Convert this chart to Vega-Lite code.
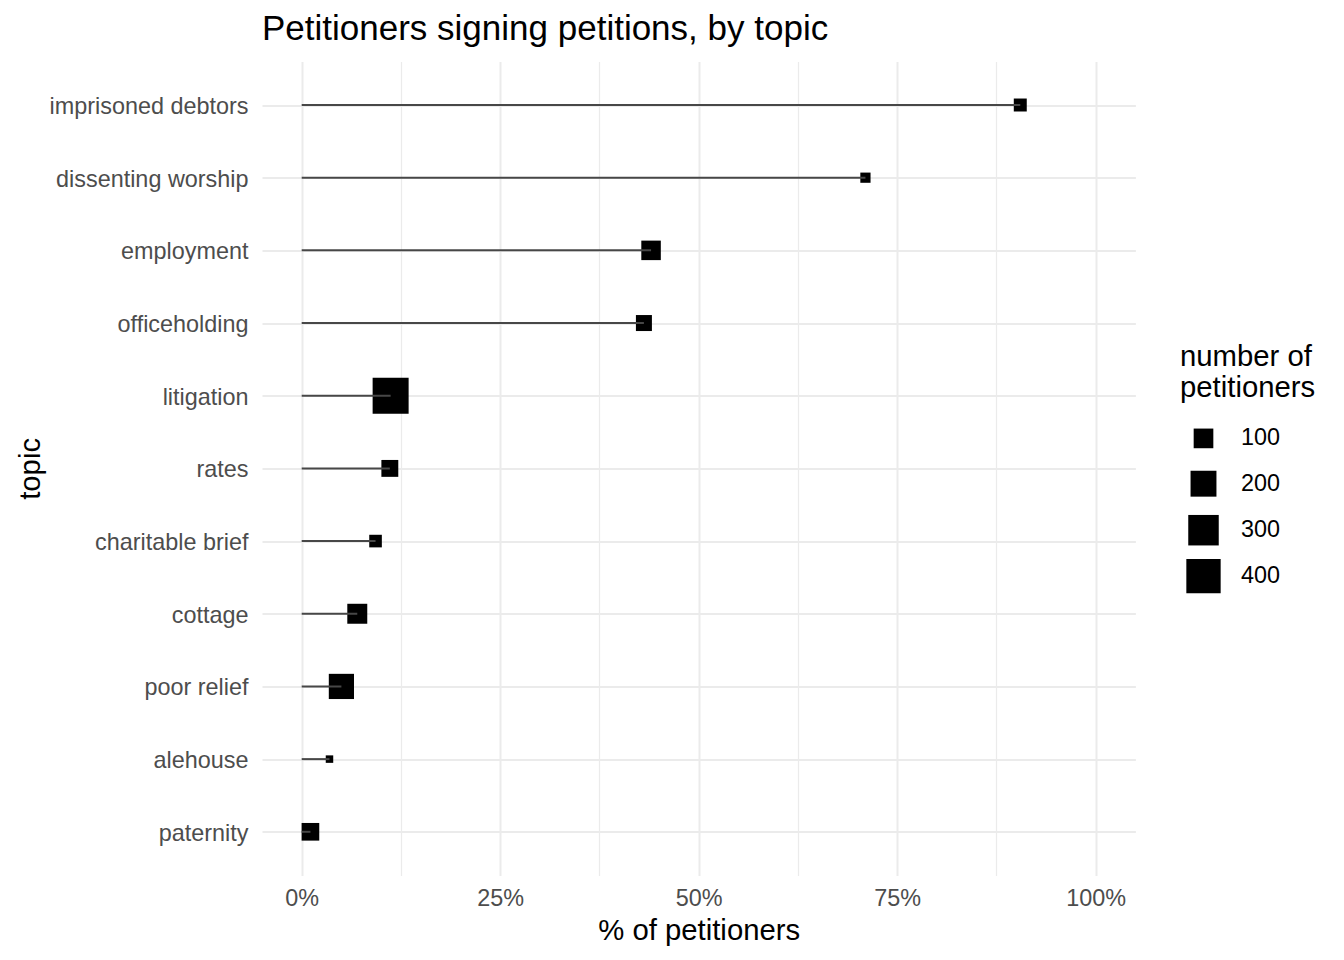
{
  "$schema": "https://vega.github.io/schema/vega-lite/v6.json",
  "autosize": {"type": "none"},
  "width": 873.4,
  "height": 814,
  "padding": {"left": 262, "top": 61.4, "right": 208.6, "bottom": 84.6},
  "background": "white",
  "title": {
    "text": "Petitioners signing petitions, by topic",
    "anchor": "start",
    "frame": "group",
    "fontSize": 35,
    "fontWeight": "normal",
    "color": "black",
    "offset": 14
  },
  "data": {
    "values": [
      {"topic": "imprisoned debtors", "share": 0.905, "petitioners": 38},
      {"topic": "dissenting worship", "share": 0.710, "petitioners": 26},
      {"topic": "employment", "share": 0.440, "petitioners": 98},
      {"topic": "officeholding", "share": 0.431, "petitioners": 60},
      {"topic": "litigation", "share": 0.112, "petitioners": 449},
      {"topic": "rates", "share": 0.111, "petitioners": 69},
      {"topic": "charitable brief", "share": 0.093, "petitioners": 36},
      {"topic": "cottage", "share": 0.070, "petitioners": 104},
      {"topic": "poor relief", "share": 0.050, "petitioners": 187},
      {"topic": "alehouse", "share": 0.035, "petitioners": 22},
      {"topic": "paternity", "share": 0.011, "petitioners": 77}
    ]
  },
  "encoding": {
    "y": {
      "field": "topic",
      "type": "nominal",
      "sort": null,
      "scale": {"type": "point", "padding": 0.6},
      "axis": {
        "title": "topic",
        "titlePadding": 17,
        "labelPadding": 14,
        "labelLimit": 400,
        "labelOffset": 1.5,
        "ticks": false,
        "domain": false,
        "grid": true,
        "gridWidth": 2
      }
    },
    "x": {
      "field": "share",
      "type": "quantitative",
      "scale": {"domain": [-0.05, 1.05], "nice": false, "zero": false},
      "axis": {
        "title": "% of petitioners",
        "values": [0, 0.125, 0.25, 0.375, 0.5, 0.625, 0.75, 0.875, 1],
        "labelExpr": "(datum.value * 8) % 2 == 0 ? format(datum.value, '.0%') : ''",
        "gridWidth": {"condition": {"test": "(datum.value * 8) % 2 == 0", "value": 2}, "value": 1.2},
        "ticks": false,
        "domain": false,
        "labelPadding": 12,
        "titlePadding": 7
      }
    }
  },
  "layer": [
    {
      "mark": {"type": "square", "filled": true, "opacity": 1, "color": "black"},
      "encoding": {
        "size": {
          "field": "petitioners",
          "type": "quantitative",
          "scale": {
            "zero": false,
            "domain": [22, 24, 27, 31, 40, 60, 100, 150, 200, 300, 400, 449],
            "range": [56, 89, 112, 135, 178, 256, 387, 534, 671, 930, 1178, 1296]
          },
          "legend": {
            "title": ["number of", "petitioners"],
            "values": [100, 200, 300, 400],
            "orient": "none",
            "legendX": 918,
            "legendY": 282,
            "symbolOffset": 6,
            "labelOffset": 20,
            "gridAlign": "all",
            "rowPadding": 9,
            "titlePadding": 23
          }
        }
      }
    },
    {
      "mark": {"type": "rule", "color": "#474747", "strokeWidth": 2},
      "encoding": {"x2": {"datum": 0}}
    }
  ],
  "config": {
    "font": "Liberation Sans",
    "view": {"stroke": null},
    "axis": {
      "gridColor": "#EBEBEB",
      "labelColor": "#4D4D4D",
      "labelFontSize": 23.4,
      "titleFontSize": 29.3,
      "titleFontWeight": "normal",
      "titleColor": "black"
    },
    "legend": {
      "titleFontSize": 29.3,
      "titleFontWeight": "normal",
      "titleColor": "black",
      "titleLineHeight": 31,
      "labelFontSize": 23.4,
      "labelColor": "black",
      "symbolFillColor": "black",
      "symbolStrokeWidth": 0,
      "padding": 0
    }
  }
}
